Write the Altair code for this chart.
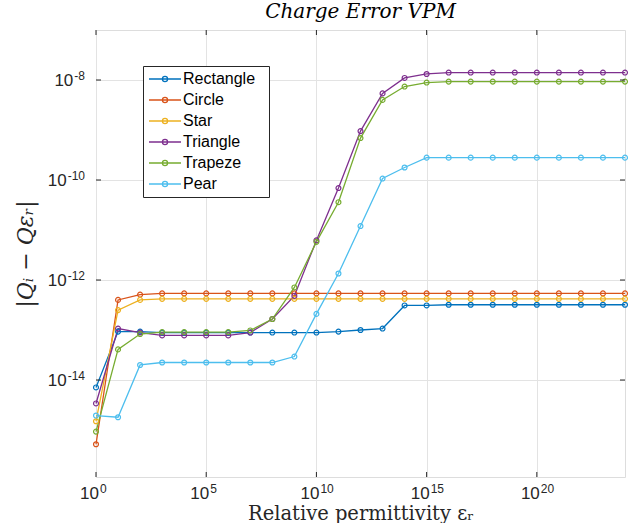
import altair as alt
import pandas as pd

shapes = ["Rectangle", "Circle", "Star", "Triangle", "Trapeze", "Pear"]
colors = ["#0072BD", "#D95319", "#EDB120", "#7E2F8E", "#77AC30", "#4DBEEE"]

eps_r = [1e0, 1e1, 1e2, 1e3, 1e4, 1e5, 1e6, 1e7, 1e8, 1e9, 1e10, 1e11, 1e12,
         1e13, 1e14, 1e15, 1e16, 1e17, 1e18, 1e19, 1e20, 1e21, 1e22, 1e23, 1e24]

rectangle = [7.1e-15, 9.3e-14, 9.3e-14, 8.9e-14, 8.9e-14, 8.9e-14, 8.9e-14, 8.9e-14,
             8.9e-14, 8.9e-14, 8.9e-14, 9.3e-14, 1.0e-13, 1.07e-13, 3.1e-13, 3.1e-13,
             3.2e-13, 3.2e-13, 3.2e-13, 3.2e-13, 3.2e-13, 3.2e-13, 3.2e-13, 3.2e-13, 3.2e-13]
circle = [5.2e-16, 4.0e-13, 5.1e-13, 5.4e-13, 5.4e-13, 5.4e-13, 5.4e-13, 5.4e-13,
          5.4e-13, 5.4e-13, 5.4e-13, 5.4e-13, 5.4e-13, 5.4e-13, 5.4e-13, 5.4e-13,
          5.4e-13, 5.4e-13, 5.4e-13, 5.4e-13, 5.4e-13, 5.4e-13, 5.4e-13, 5.4e-13, 5.4e-13]
star = [1.5e-15, 2.5e-13, 4.0e-13, 4.2e-13, 4.2e-13, 4.2e-13, 4.2e-13, 4.2e-13,
        4.2e-13, 4.2e-13, 4.2e-13, 4.2e-13, 4.2e-13, 4.2e-13, 4.2e-13, 4.2e-13,
        4.2e-13, 4.2e-13, 4.2e-13, 4.2e-13, 4.2e-13, 4.2e-13, 4.2e-13, 4.2e-13, 4.2e-13]
triangle = [3.4e-15, 1.07e-13, 8.9e-14, 7.8e-14, 7.8e-14, 7.8e-14, 7.8e-14, 8.9e-14,
            1.66e-13, 4.8e-13, 6.2e-12, 6.9e-11, 9.5e-10, 5.4e-9, 1.1e-8, 1.32e-8,
            1.41e-8, 1.41e-8, 1.41e-8, 1.41e-8, 1.41e-8, 1.41e-8, 1.41e-8, 1.41e-8, 1.41e-8]
trapeze = [9.3e-16, 4.1e-14, 8.3e-14, 9.1e-14, 9.1e-14, 9.1e-14, 9.1e-14, 9.8e-14,
           1.66e-13, 7.1e-13, 5.8e-12, 3.6e-11, 6.9e-10, 4.0e-9, 7.4e-9, 8.9e-9,
           9.3e-9, 9.3e-9, 9.3e-9, 9.3e-9, 9.3e-9, 9.3e-9, 9.3e-9, 9.3e-9, 9.3e-9]
pear = [1.95e-15, 1.8e-15, 2.0e-14, 2.24e-14, 2.24e-14, 2.24e-14, 2.24e-14, 2.24e-14,
        2.24e-14, 2.95e-14, 2.1e-13, 1.35e-12, 1.2e-11, 1.07e-10, 1.78e-10, 2.8e-10,
        2.8e-10, 2.8e-10, 2.8e-10, 2.8e-10, 2.8e-10, 2.8e-10, 2.8e-10, 2.8e-10, 2.8e-10]

# axis ticks and their labels (10 raised to the exponent)
x_ticks = [1e0, 1e5, 1e10, 1e15, 1e20]
x_tick_exp = ["0", "5", "10", "15", "20"]
y_ticks = [1e-14, 1e-12, 1e-10, 1e-8]
y_tick_exp = ["-14", "-12", "-10", "-8"]
x_domain = [1e0, 1e24]
y_domain = [1.15e-16, 1e-7]

series = [rectangle, circle, star, triangle, trapeze, pear]
rows = []
for name, vals in zip(shapes, series):
    for xv, yv in zip(eps_r, vals):
        rows.append({"eps": xv, "err": yv, "shape": name})
df = pd.DataFrame(rows)
xt = pd.DataFrame({"eps": x_ticks, "exp": x_tick_exp})
yt = pd.DataFrame({"err": y_ticks, "exp": y_tick_exp})

W, H = 529, 447
LABEL_FONT = "Liberation Sans"
BASE_SIZE, EXP_SIZE = 17, 12
AX = "#262626"

axis_common = dict(
    grid=True, gridColor="#e3e3e3", gridWidth=1, ticks=False, domain=False,
    labels=False, titleColor=AX,
)

x_axis = alt.Axis(values=x_ticks, title="Relative permittivity \u03b5\u1d63",
                  titleFont="DejaVu Serif", titleFontSize=19.5, titleFontWeight="normal",
                  titlePadding=27, **axis_common)
y_axis = alt.Axis(values=y_ticks, title="|Q\u1d62 \u2212 Q\u03b5\u1d63|",
                  titleFont="DejaVu Serif", titleFontSize=22, titleFontStyle="italic",
                  titleFontWeight="normal", titlePadding=59, **axis_common)

xs = alt.Scale(type="log", domain=x_domain, nice=False)
ys = alt.Scale(type="log", domain=y_domain, nice=False)
X = alt.X("eps:Q", scale=xs, axis=x_axis)
Y = alt.Y("err:Q", scale=ys, axis=y_axis)

legend_symbol = "M-1,0L1,0M0.16,0A0.16,0.16,0,1,1,-0.16,0A0.16,0.16,0,1,1,0.16,0"

lines = alt.Chart(df).mark_line(
    strokeWidth=1.3,
    point=alt.OverlayMarkDef(filled=False, size=24, strokeWidth=1.2),
).encode(
    x=X, y=Y,
    color=alt.Color(
        "shape:N",
        scale=alt.Scale(domain=shapes, range=colors),
        sort=shapes,
        legend=alt.Legend(
            title=".", titleOrient="right", titleColor="white", titleFontSize=16,
            titlePadding=4,
            orient="none", legendX=47, legendY=36,
            symbolType=legend_symbol, symbolSize=1024, symbolStrokeWidth=1.3,
            clipHeight=16, rowPadding=5, labelOffset=1,
            labelFont="Liberation Sans", labelFontSize=16, labelColor="#000000",
            strokeColor=AX, fillColor="white", padding=5,
        ),
    ),
)

tick_style = dict(color=AX, strokeWidth=1)
bottom_ticks = alt.Chart(xt).mark_rule(**tick_style).encode(
    x=X, y=alt.value(H), y2=alt.value(H - 5))
top_ticks = alt.Chart(xt).mark_rule(**tick_style).encode(
    x=X, y=alt.value(0), y2=alt.value(5))
left_ticks = alt.Chart(yt).mark_rule(**tick_style).encode(
    y=Y, x=alt.value(0), x2=alt.value(5))
right_ticks = alt.Chart(yt).mark_rule(**tick_style).encode(
    y=Y, x=alt.value(W), x2=alt.value(W - 5))

# tick labels: base "10" plus a raised exponent
x_base = alt.Chart(xt).mark_text(
    align="right", baseline="alphabetic", dx=3, font=LABEL_FONT, fontSize=BASE_SIZE, color=AX
).encode(x=X, y=alt.value(H + 22), text=alt.value("10"))
x_exp = alt.Chart(xt).mark_text(
    align="left", baseline="alphabetic", dx=4, font=LABEL_FONT, fontSize=EXP_SIZE, color=AX
).encode(x=X, y=alt.value(H + 16), text="exp:N")

y_exp = alt.Chart(yt).mark_text(
    align="right", baseline="alphabetic", dy=0, font=LABEL_FONT, fontSize=EXP_SIZE, color=AX
).encode(y=Y, x=alt.value(-11), text="exp:N")
y_base = alt.Chart(yt).transform_calculate(
    bx="-12 - (6.67 * (length(datum.exp) - (indexof(datum.exp, '-') >= 0 ? 1 : 0))"
       " + (indexof(datum.exp, '-') >= 0 ? 4 : 0))"
).mark_text(
    align="right", baseline="alphabetic", dy=6, font=LABEL_FONT, fontSize=BASE_SIZE, color=AX
).encode(y=Y, x=alt.X("bx:Q", scale=None), text=alt.value("10"))

chart = alt.layer(
    lines, bottom_ticks, top_ticks, left_ticks, right_ticks, x_base, x_exp, y_exp, y_base
).properties(
    width=W, height=H,
    title=alt.TitleParams("Charge Error VPM", font="DejaVu Serif", fontStyle="italic",
                          fontSize=20, fontWeight="normal", color="#000000",
                          anchor="middle", offset=8),
    autosize=alt.AutoSizeParams(type="none"),
    padding={"left": 96, "top": 30, "right": 9, "bottom": 46},
).configure_view(stroke=AX, strokeWidth=1).configure(background="white")

chart.save("out.html", embed_options={"renderer": "svg", "actions": False})
